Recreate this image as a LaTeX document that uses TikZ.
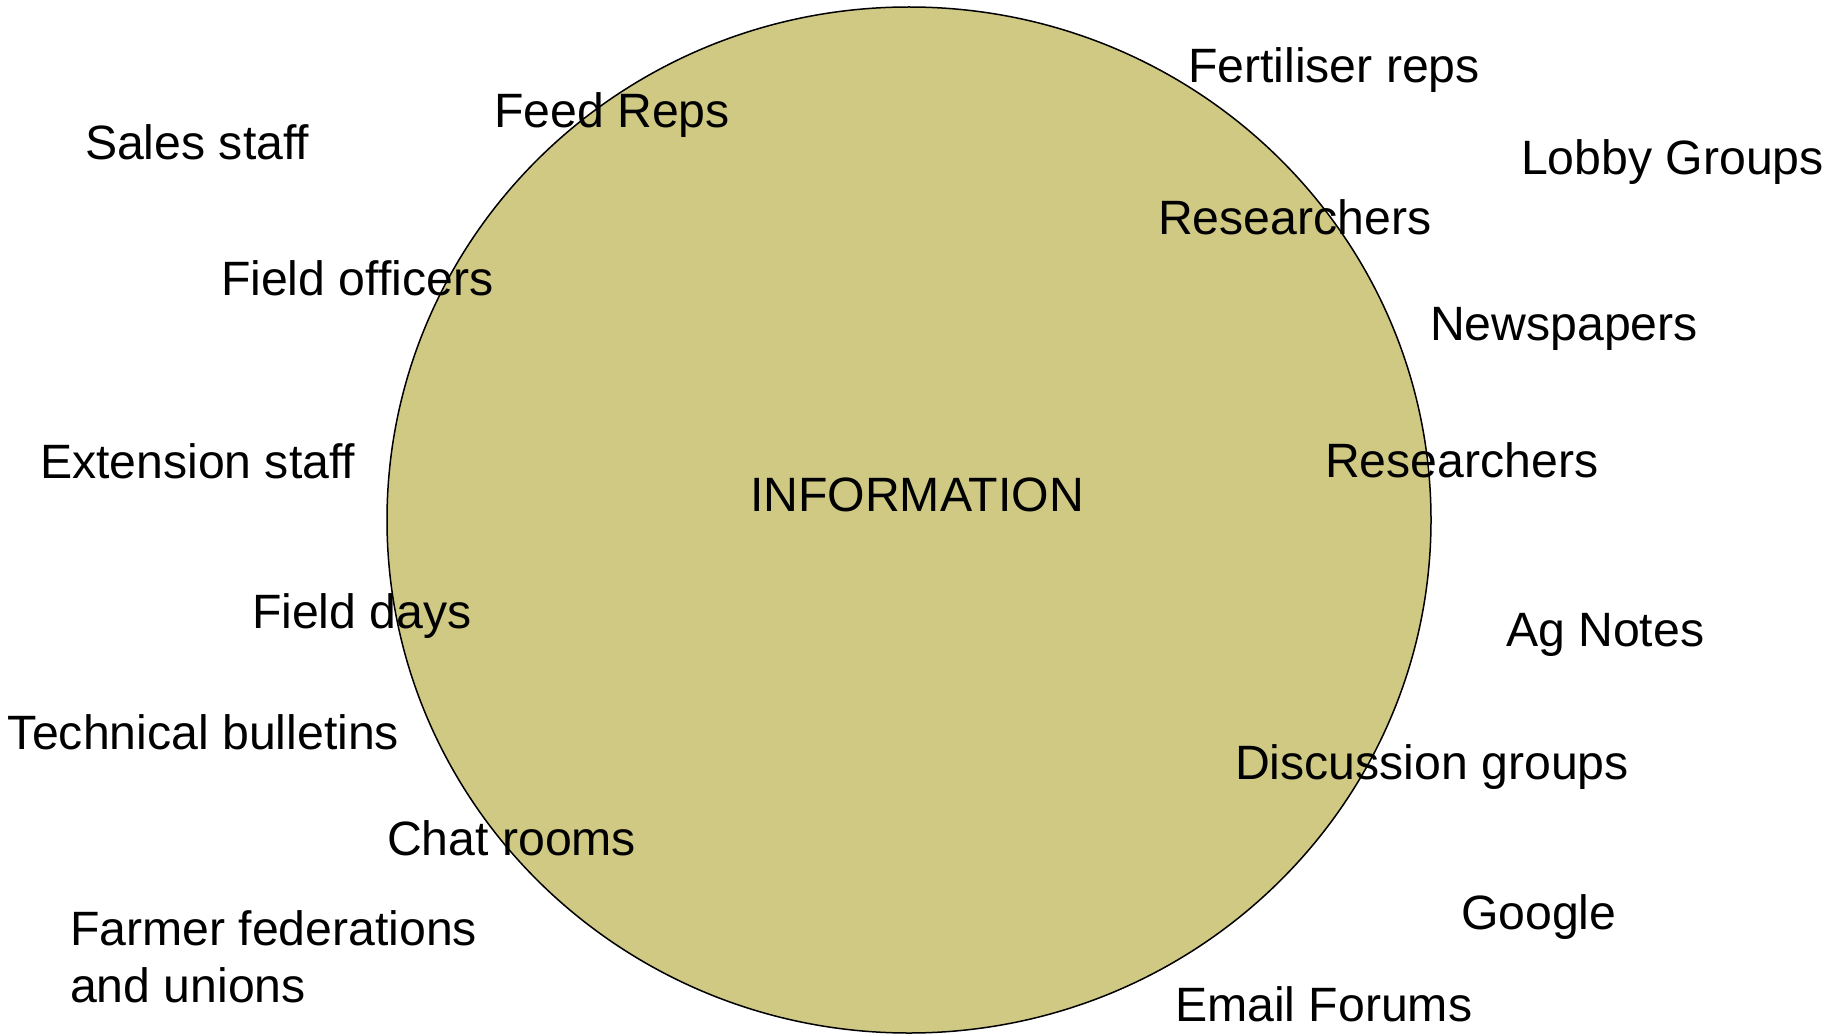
\documentclass[tikz,border=0pt]{standalone}
\usepackage{fontspec}
\setmainfont{Liberation Sans}
\definecolor{infofill}{RGB}{207,201,132}
\begin{document}
\begin{tikzpicture}[x=1pt,y=-1pt,
  lbl/.style={anchor=base west,inner sep=0pt,outer sep=0pt,font=\fontsize{48.2}{57}\selectfont,text=black}]
\useasboundingbox (0,0) rectangle (1837,1035);
\fill[white] (0,0) rectangle (1837,1035);
\draw[fill=infofill,line width=1.5pt] (909,520) ellipse [x radius=522, y radius=513];
\node[lbl] (info) at (750,511) {INFORMATION};
\node[lbl] (sales) at (85,160) {Sales staff};
\node[lbl] (feed) at (494,128) {Feed Reps};
\node[lbl] (fieldoff) at (221,295) {Field officers};
\node[lbl] (ext) at (40,478) {Extension staff};
\node[lbl] (fert) at (1188,83) {Fertiliser reps};
\node[lbl] (lobby) at (1521,175) {Lobby Groups};
\node[lbl] (res1) at (1158,235) {Researchers};
\node[lbl] (news) at (1430,340) {Newspapers};
\node[lbl] (res2) at (1325,477) {Researchers};
\node[lbl] (fdays) at (252,628) {Field days};
\node[lbl] (tech) at (8,749) {Technical bulletins};
\node[lbl] (chat) at (387,855) {Chat rooms};
\node[lbl,align=left] (farmer) at (70,1002) {Farmer federations\\and unions};
\node[lbl] (agnotes) at (1506,646) {Ag Notes};
\node[lbl] (disc) at (1235,779) {Discussion groups};
\node[lbl] (google) at (1461,929) {Google};
\node[lbl] (email) at (1175,1021) {Email Forums};
\end{tikzpicture}
\end{document}
